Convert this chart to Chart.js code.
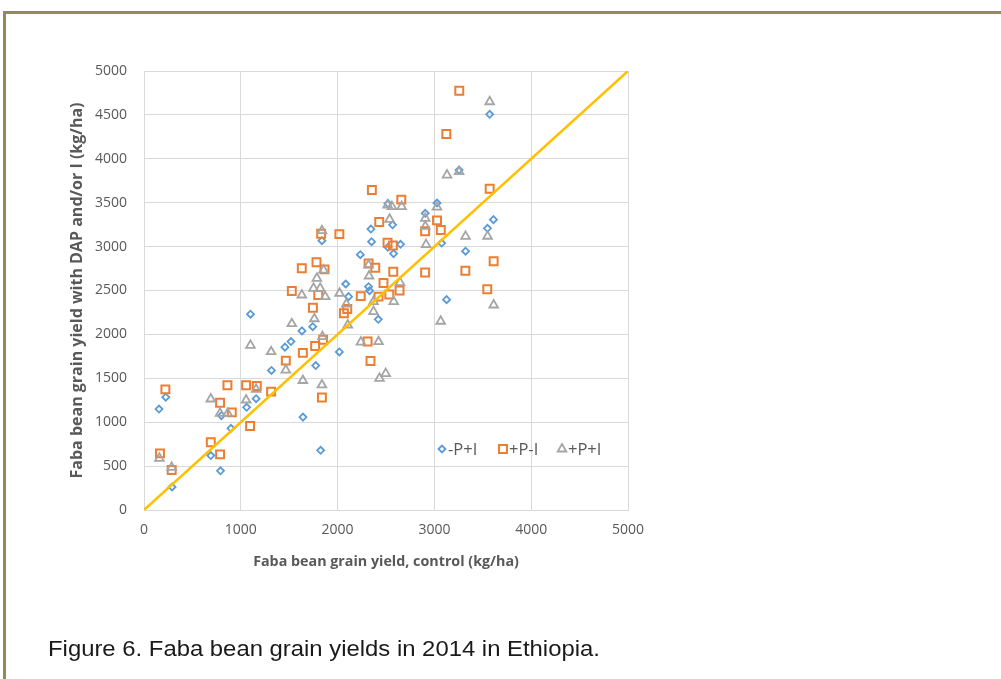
<!DOCTYPE html>
<html>
<head>
<meta charset="utf-8">
<script src="https://cdn.jsdelivr.net/npm/chart.js@4.4.1/dist/chart.umd.min.js"></script>
<style>
  html, body { margin: 0; padding: 0; background: #fff; width: 1001px; height: 679px; overflow: hidden; }
  #frame { position: absolute; left: 3px; top: 11px; width: 1100px; height: 800px;
           border-top: 3px solid #948a54; border-left: 3px solid #948a54; }
  #c { position: absolute; left: 0; top: 0; }
  #caption { position: absolute; left: 48px; top: 637px; font: 21.5px "Liberation Sans", Arial, sans-serif;
             color: #1a1a1a; white-space: nowrap; transform: scaleX(1.11); transform-origin: left center; }
</style>
</head>
<body>
<div id="frame"></div>
<canvas id="c" width="1001" height="679"></canvas>
<div id="caption">Figure 6. Faba bean grain yields in 2014 in Ethiopia.</div>
<script>
// Grain yield of the control plot (x) and of the treated plot (y), kg/ha, per site
const minusPplusI_control = [155, 225, 290, 690, 790, 800, 898, 1060, 1100, 1158, 1317, 1456, 1518, 1632, 1642,
  1743, 1774, 1825, 1838, 2018, 2084, 2113, 2235, 2320, 2330, 2344, 2351, 2420, 2520, 2520, 2568, 2578, 2650,
  2905, 3027, 3075, 3126, 3255, 3322, 3548, 3571, 3610];
const minusPplusI_treated = [1150, 1285, 262, 620, 446, 1075, 930, 1170, 2230, 1268, 1590, 1855, 1918, 2040, 1058,
  2088, 1645, 680, 3067, 1800, 2574, 2430, 2908, 2543, 2498, 3200, 3056, 2172, 3490, 2992, 3248, 2920, 3026,
  3379, 3497, 3040, 2396, 3872, 2948, 3208, 4507, 3307];

const plusPminusI_control = [165, 221, 286, 690, 786, 786, 862, 907, 1055, 1096, 1165, 1313, 1465, 1527, 1630,
  1641, 1745, 1768, 1782, 1800, 1838, 1850, 1830, 1865, 2018, 2065, 2100, 2239, 2310, 2340, 2320, 2354, 2389,
  2423, 2430, 2474, 2516, 2534, 2571, 2575, 2640, 2658, 2904, 2904, 3027, 3066, 3123, 3257, 3320, 3546, 3571, 3612];
const plusPminusI_treated = [645, 1374, 455, 771, 634, 1222, 1420, 1112, 1420, 957, 1412, 1348, 1701, 2495, 2753,
  1790, 2304, 1868, 2821, 2449, 1281, 1940, 3147, 2741, 3142, 2240, 2290, 2436, 1920, 1697, 2809, 3645, 2760,
  2430, 3280, 2585, 3044, 2455, 3012, 2714, 2500, 3535, 3174, 2705, 3299, 3189, 4282, 4776, 2724, 2514, 3658, 2834];

const plusPplusI_control = [159, 286, 690, 786, 865, 1055, 1100, 1158, 1313, 1465, 1527, 1630, 1641, 1760, 1751,
  1786, 1820, 1838, 1838, 1844, 1855, 1872, 2020, 2090, 2105, 2241, 2320, 2325, 2371, 2371, 2423, 2433, 2497,
  2516, 2561, 2537, 2580, 2645, 2662, 2906, 2906, 2914, 3027, 3065, 3130, 3255, 3322, 3549, 3571, 3612];
const plusPplusI_treated = [589, 486, 1264, 1101, 1101, 1253, 1875, 1375, 1803, 1594, 2122, 2449, 1475, 2178, 2525,
  2639, 2525, 3181, 1424, 1975, 2733, 2430, 2468, 2345, 2107, 1912, 2790, 2665, 2373, 2259, 1917, 1500, 1553,
  3474, 3455, 3311, 2373, 2590, 3455, 3322, 3230, 3022, 3450, 2150, 3815, 3853, 3117, 3118, 4650, 2335];

// 1:1 reference line
const oneToOneX = [0, 5000];
const oneToOneY = [0, 5000];

const seriesNames = ['-P+I', '+P-I', '+P+I'];
const axisMin = 0, axisMax = 5000;
const xStep = 1000, yStep = 500;

const pairs = (xs, ys) => xs.map((x, i) => ({ x: x, y: ys[i] }));
const plainNumber = (v) => String(v);

const GRID = '#d9d9d9';
const TEXT = '#595959';
const FONT = '"Open Sans", "DejaVu Sans", sans-serif';

// Legend drawn inside the plot area, right of the 1:1 line
const insideLegend = {
  id: 'insideLegend',
  afterDraw(chart) {
    const { ctx, chartArea: a } = chart;
    const y = a.bottom - 61;
    const offsets = [298, 359, 418];
    ctx.save();
    chart.data.datasets.forEach((ds, i) => {
      if (!ds.showInLegend) return;
      const mx = a.left + offsets[i];
      ctx.strokeStyle = ds.borderColor;
      ctx.fillStyle = 'rgba(0,0,0,0)';
      ctx.lineWidth = ds.borderWidth;
      Chart.helpers.drawPoint(ctx, { pointStyle: ds.pointStyle, radius: ds.pointRadius, borderWidth: ds.borderWidth, rotation: 0 }, mx, y);
      ctx.fillStyle = TEXT;
      ctx.font = '16.5px ' + FONT;
      ctx.textAlign = 'left';
      ctx.textBaseline = 'middle';
      ctx.fillText(ds.label, mx + 6, y + 1);
    });
    ctx.restore();
  }
};

const padLeft = 60, padTop = 71, padRight = 373, padBottom = 108;

new Chart(document.getElementById('c'), {
  type: 'scatter',
  data: {
    datasets: [
      {
        label: seriesNames[0], showInLegend: true,
        data: pairs(minusPplusI_control, minusPplusI_treated),
        pointStyle: 'rectRot', pointRadius: 3.5, borderWidth: 1.8,
        borderColor: '#5b9bd5', backgroundColor: 'rgba(0,0,0,0)', order: 3
      },
      {
        label: seriesNames[1], showInLegend: true,
        data: pairs(plusPminusI_control, plusPminusI_treated),
        pointStyle: 'rect', pointRadius: 5.6, borderWidth: 2,
        borderColor: '#ed7d31', backgroundColor: 'rgba(0,0,0,0)', order: 2
      },
      {
        label: seriesNames[2], showInLegend: true,
        data: pairs(plusPplusI_control, plusPplusI_treated),
        pointStyle: 'triangle', pointRadius: 5, borderWidth: 1.8,
        borderColor: '#a5a5a5', backgroundColor: 'rgba(0,0,0,0)', order: 1
      },
      {
        type: 'line', label: '1:1', showInLegend: false,
        data: pairs(oneToOneX, oneToOneY),
        borderColor: '#ffc000', borderWidth: 2.5,
        pointStyle: 'rect', pointRadius: 2.2, pointBorderWidth: 0,
        pointBackgroundColor: '#ffc000', showLine: true, fill: false, order: 0
      }
    ]
  },
  options: {
    responsive: false,
    animation: false,
    devicePixelRatio: 1,
    layout: { padding: { left: padLeft, top: padTop, right: padRight, bottom: padBottom } },
    plugins: { legend: { display: false }, tooltip: { enabled: false } },
    scales: {
      x: {
        type: 'linear', min: axisMin, max: axisMax,
        afterFit(scale) { scale.height = 679 - padBottom - 510; },
        ticks: { stepSize: xStep, color: TEXT, font: { family: FONT, size: 14 }, padding: 12, callback: plainNumber },
        grid: { color: GRID, drawTicks: false, lineWidth: 1 },
        border: { color: GRID },
        title: { display: true, text: 'Faba bean grain yield, control (kg/ha)', color: TEXT,
                 font: { family: FONT, size: 14.3, weight: 'bold' }, padding: { top: 0, bottom: 0 } }
      },
      y: {
        type: 'linear', min: axisMin, max: axisMax,
        afterFit(scale) { scale.width = 144 - padLeft; },
        ticks: { stepSize: yStep, color: TEXT, font: { family: FONT, size: 14 }, padding: 17, callback: plainNumber },
        grid: { color: GRID, drawTicks: false, lineWidth: 1 },
        border: { color: GRID },
        title: { display: true, text: 'Faba bean grain yield with DAP and/or I (kg/ha)', color: TEXT,
                 font: { family: FONT, size: 16, weight: 'bold' }, padding: { top: 8, bottom: 0 } }
      }
    }
  },
  plugins: [insideLegend]
});
</script>
</body>
</html>
